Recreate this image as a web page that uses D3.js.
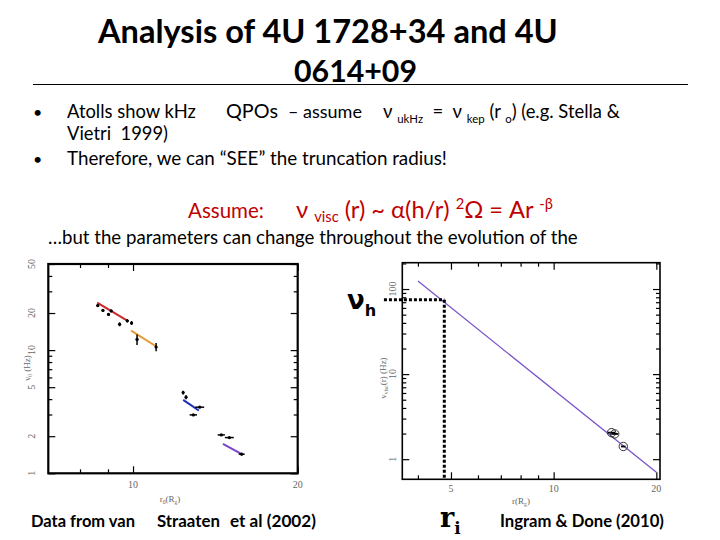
<!DOCTYPE html>
<html><head><meta charset="utf-8">
<script src="https://cdn.jsdelivr.net/npm/d3@7"></script>
<style>body{margin:0;background:#fff} svg{display:block}</style>
</head><body>
<svg id="c" width="720" height="540"></svg>
<script>
// ---------------- data ----------------
// Left panel: van Straaten et al (2002)
const leftXMajor = [10, 20], leftXMinor = [8, 9];
const leftXLabels = ["10", "20"];
const leftYMajor = [1, 2, 5, 10, 20, 50], leftYMinor = [3, 4, 6, 7, 8, 9, 30, 40];
const leftYLabels = ["1", "2", "5", "10", "20", "50"];
const redFit    = [[8.60, 24.3], [9.81, 17.1]];
const orangeFit = [[9.92, 14.4], [11.03, 10.7]];
const blueFit   = [[12.35, 3.94], [12.74, 3.59], [13.19, 3.23]];
const purpleFit = [[14.6, 1.73], [15.8, 1.43]];
const obsR     = [8.62, 8.81, 9.02, 9.12, 9.45, 9.76, 9.94, 10.17, 11.02, 12.35, 12.5, 13.24, 12.89, 14.5, 15.0, 15.8];
const obsNu    = [23.0, 21.0, 19.5, 20.8, 16.2, 17.3, 16.6, 12.2, 10.6, 4.52, 4.15, 3.44, 2.98, 2.05, 1.95, 1.43];
const obsRErr  = [0.05, 0.05, 0.05, 0.05, 0.05, 0.05, 0.05, 0.05, 0.05, 0.05, 0.05, 0.25, 0.2, 0.22, 0.28, 0.2];
const obsNuErr = [0.6, 0.4, 0.5, 0.5, 0.6, 0.5, 0.6, 1.2, 0.8, 0.15, 0.15, 0.05, 0.05, 0.03, 0.03, 0.03];

// Right panel: Ingram & Done (2010)
const rightXMajor = [5, 10, 20], rightXMinor = [4, 6, 7, 8, 9];
const rightXLabels = ["5", "10", "20"];
const rightYMajor = [1, 10, 100], rightYMinor = [2, 3, 4, 5, 6, 7, 8, 9, 20, 30, 40, 50, 60, 70, 80, 90, 200];
const rightYLabels = ["1", "10", "100"];
const viscModel = [[4.0, 124], [20.0, 0.70]];
const ptR = [14.78, 15.1, 16.0], ptNu = [2.05, 1.98, 1.41], ptRErr = [0.35, 0.35, 0.25];
const rTrunc = 4.78, nuH = 75, guideStartR = 3.18;

// ---------------- drawing ----------------
const svg = d3.select("#c");
const SANS = "Lato, 'Open Sans', sans-serif";
const SERIF = "'Liberation Serif', 'DejaVu Serif', serif";

// rich text helper: segments [{t, s}] s = 'sub' | 'sup' | undefined
function rich(x, y, segs, opt) {
  const t = svg.append("text").attr("x", x).attr("y", y)
    .attr("font-family", opt.family || SANS)
    .attr("font-weight", opt.bold ? "bold" : "normal")
    .attr("fill", opt.color || "#000")
    .attr("font-size", opt.size || 18)
    .style("white-space", "pre");
  let shift = 0;
  const subDrop = opt.subDrop != null ? opt.subDrop : 0.25;
  segs.forEach(s => {
    const ts = t.append("tspan").text(s.t);
    let target = s.s === "sub" ? subDrop : s.s === "sup" ? -0.4 : 0;
    const rel = s.s ? 0.62 : 1;
    if (s.s) ts.attr("font-size", rel + "em");
    const d = target - shift;
    if (d !== 0) ts.attr("dy", (d / rel) + "em");
    shift = target;
  });
  if (opt.width) {
    const w = t.node().getComputedTextLength();
    t.attr("font-size", (opt.size || 18) * opt.width / w);
  }
  if (opt.anchor) t.attr("text-anchor", opt.anchor);
  return t;
}
const plain = (x, y, s, opt) => rich(x, y, [{t: s}], opt);

// ---- Title ----
plain(98, 43, "Analysis of 4U 1728+34 and 4U", {bold: true, size: 33, width: 460});
plain(294, 82, "0614+09", {bold: true, size: 33, width: 123});
svg.append("line").attr("x1", 33).attr("x2", 688).attr("y1", 84.5).attr("y2", 84.5)
  .attr("stroke", "#000").attr("stroke-width", 1);

// ---- Bullets ----
plain(33, 118, "•", {size: 16});
plain(67, 118, "Atolls show kHz", {size: 18, width: 129});
plain(226, 118, "QPOs", {size: 18, width: 52});
plain(288, 118, "– assume", {size: 18, width: 74});
rich(383, 118, [{t: "ν "}, {t: "ukHz", s: "sub"}, {t: "  =  ν "}, {t: "kep", s: "sub"}, {t: " (r "},
  {t: "o", s: "sub"}, {t: ") (e.g. Stella &"}], {size: 18, width: 237});
plain(67, 140, "Vietri  1999)", {size: 18, width: 101});
plain(33, 165, "•", {size: 16});
plain(67, 165, "Therefore, we can “SEE” the truncation radius!", {size: 18, width: 380});

// ---- Assume line ----
const RED = "#c00000";
plain(188, 218, "Assume:", {size: 20, width: 76, color: RED});
rich(296, 218, [{t: "ν "}, {t: "visc", s: "sub"}, {t: " (r) ~ α(h/r) "}, {t: "2", s: "sup"}, {t: "Ω = Ar "},
  {t: "-β", s: "sup"}], {size: 20, width: 257, color: RED, subDrop: 0.18});
plain(48, 244, "…but the parameters can change throughout the evolution of the", {size: 18, width: 530});

// ---- generic framed log panel ----
function panel(x, y, xMaj, xMin, yMaj, yMin, frameW) {
  const g = svg.append("g");
  const [x0, x1] = x.range(), [y0, y1] = y.range();
  const mk = (axis, tr, vals, len) => {
    const a = g.append("g").attr("transform", tr)
      .call(axis.tickValues(vals).tickSizeInner(-len).tickSizeOuter(0).tickFormat(""));
    a.select(".domain").remove();
    a.selectAll("line").attr("stroke", "#000").attr("stroke-width", 1.2);
  };
  mk(d3.axisBottom(x), `translate(0,${y0})`, xMaj, 7);
  mk(d3.axisBottom(x), `translate(0,${y0})`, xMin, 4);
  mk(d3.axisTop(x), `translate(0,${y1})`, xMaj, 7);
  mk(d3.axisTop(x), `translate(0,${y1})`, xMin, 4);
  mk(d3.axisLeft(y), `translate(${x0},0)`, yMaj, 7);
  mk(d3.axisLeft(y), `translate(${x0},0)`, yMin, 4);
  mk(d3.axisRight(y), `translate(${x1},0)`, yMaj, 7);
  mk(d3.axisRight(y), `translate(${x1},0)`, yMin, 4);
  g.append("rect").attr("x", x0).attr("y", y1).attr("width", x1 - x0).attr("height", y0 - y1)
    .attr("fill", "none").attr("stroke", "#000").attr("stroke-width", frameW);
  return g;
}
const GREY = "#666";
function yLabels(vals, labels, y, xpos) {
  vals.forEach((v, i) => {
    svg.append("text").attr("transform", `translate(${xpos},${y(v)}) rotate(-90)`)
      .attr("text-anchor", "middle").attr("font-family", SERIF).attr("font-size", 10)
      .attr("fill", GREY).text(labels[i]);
  });
}
function xLabels(vals, labels, x, ypos) {
  vals.forEach((v, i) => {
    svg.append("text").attr("x", x(v)).attr("y", ypos).attr("text-anchor", "middle")
      .attr("font-family", SERIF).attr("font-size", 10).attr("fill", GREY).text(labels[i]);
  });
}

// ---- Left panel ----
const xL = d3.scaleLog().domain([7, 20]).range([48.3, 297.7]);
const yL = d3.scaleLog().domain([1, 50]).range([473.3, 264]);
panel(xL, yL, leftXMajor, leftXMinor, leftYMajor, leftYMinor, 2.2);
yLabels(leftYMajor, leftYLabels, yL, 35);
xLabels(leftXMajor, leftXLabels, xL, 488);
const lineL = d3.line().x(d => xL(d[0])).y(d => yL(d[1])).curve(d3.curveMonotoneX);
[[redFit, "#c8282c"], [orangeFit, "#e39b2e"], [blueFit, "#1f2fb8"], [purpleFit, "#7a45c8"]].forEach(([d, c]) => {
  svg.append("path").datum(d).attr("d", lineL).attr("fill", "none").attr("stroke", c).attr("stroke-width", 2);
});
const obs = obsR.map((r, i) => ({r, nu: obsNu[i], re: obsRErr[i], ne: obsNuErr[i]}));
const og = svg.append("g").attr("stroke", "#000").attr("stroke-width", 1.5);
obs.forEach(o => {
  og.append("line").attr("x1", xL(o.r - o.re)).attr("x2", xL(o.r + o.re)).attr("y1", yL(o.nu)).attr("y2", yL(o.nu));
  og.append("line").attr("x1", xL(o.r)).attr("x2", xL(o.r)).attr("y1", yL(o.nu - o.ne)).attr("y2", yL(o.nu + o.ne));
  og.append("circle").attr("cx", xL(o.r)).attr("cy", yL(o.nu)).attr("r", 1.6).attr("fill", "#000").attr("stroke", "none");
});
// axis titles
rich(0, 0, [{t: "ν"}, {t: "0", s: "sub"}, {t: " (Hz)"}], {family: SERIF, size: 9, color: GREY, anchor: "middle"})
  .attr("transform", "translate(30,368) rotate(-90)");
rich(170, 502, [{t: "r"}, {t: "0", s: "sub"}, {t: "(R"}, {t: "g", s: "sub"}, {t: ")"}], {family: SERIF, size: 9, color: GREY, anchor: "middle"});

// ---- Right panel ----
const xR = d3.scaleLog().domain([3.6, 20.5]).range([402.3, 660]);
const yR = d3.scaleLog().domain([0.58, 204]).range([479.3, 262.7]);
panel(xR, yR, rightXMajor, rightXMinor, rightYMajor, rightYMinor, 1.6);
yLabels(rightYMajor, rightYLabels, yR, 396);
xLabels(rightXMajor, rightXLabels, xR, 492);
svg.append("path").datum(viscModel).attr("d", d3.line().x(d => xR(d[0])).y(d => yR(d[1])))
  .attr("fill", "none").attr("stroke", "#7a55c8").attr("stroke-width", 1.3);
ptR.forEach((r, i) => {
  svg.append("line").attr("x1", xR(r - ptRErr[i])).attr("x2", xR(r + ptRErr[i]))
    .attr("y1", yR(ptNu[i])).attr("y2", yR(ptNu[i])).attr("stroke", "#000").attr("stroke-width", 1.8);
  svg.append("circle").attr("cx", xR(r)).attr("cy", yR(ptNu[i])).attr("r", 4.2)
    .attr("fill", "none").attr("stroke", "#333").attr("stroke-width", 1);
});
// dotted guides
svg.append("line").attr("x1", xR(guideStartR)).attr("x2", xR(rTrunc)).attr("y1", yR(nuH)).attr("y2", yR(nuH))
  .attr("stroke", "#000").attr("stroke-width", 3).attr("stroke-dasharray", "3,2");
svg.append("line").attr("x1", xR(rTrunc)).attr("x2", xR(rTrunc)).attr("y1", yR(nuH)).attr("y2", yR.range()[0])
  .attr("stroke", "#000").attr("stroke-width", 3).attr("stroke-dasharray", "3,2");
rich(0, 0, [{t: "ν"}, {t: "visc", s: "sub"}, {t: "(r) (Hz)"}], {family: SERIF, size: 9, color: GREY, anchor: "middle"})
  .attr("transform", "translate(386,378) rotate(-90)");
rich(521, 504, [{t: "r(R"}, {t: "g", s: "sub"}, {t: ")"}], {family: SERIF, size: 9, color: GREY, anchor: "middle"});
// big labels
rich(347, 309, [{t: "ν"}, {t: "h", s: "sub"}], {bold: true, size: 26, family: "'DejaVu Sans', sans-serif"});
rich(440, 527, [{t: "r"}, {t: "i", s: "sub"}], {bold: true, size: 27, family: "'DejaVu Serif', serif"});

// ---- captions ----
plain(31, 527, "Data from van", {bold: true, size: 15, width: 104});
plain(157, 527, "Straaten", {bold: true, size: 15, width: 63});
plain(230, 527, "et al (2002)", {bold: true, size: 15, width: 86});
plain(500, 527, "Ingram & Done (2010)", {bold: true, size: 15, width: 164});
</script>
</body></html>
